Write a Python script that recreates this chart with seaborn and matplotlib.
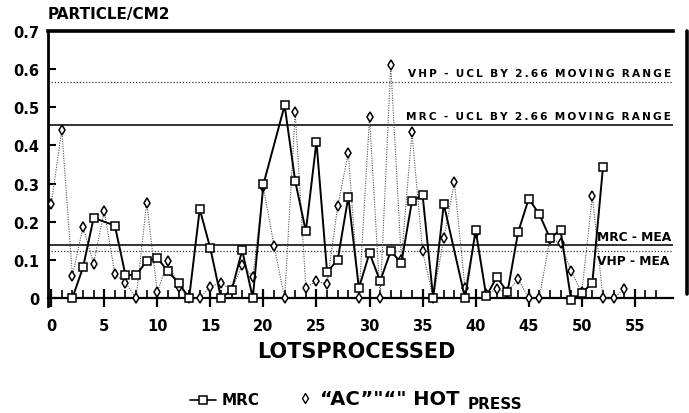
import numpy as np
import pandas as pd
import matplotlib
matplotlib.use("Agg")
import matplotlib.pyplot as plt
from matplotlib.lines import Line2D
import seaborn as sns

# ---------------- data ----------------
mrc_lots = [2, 3, 4, 6, 7, 8, 9, 10, 11, 12, 13, 14, 15, 16, 17, 18, 19, 20,
            22, 23, 24, 25, 26, 27, 28, 29, 30, 31, 32, 33, 34, 35, 36, 37,
            39, 40, 41, 42, 43, 44, 45, 46, 47, 48, 49, 50, 51, 52]
mrc_vals = [0.0, 0.08, 0.21, 0.19, 0.06, 0.06, 0.097, 0.105, 0.07, 0.04, 0.0,
            0.233, 0.13, 0.0, 0.02, 0.125, 0.0, 0.298,
            0.505, 0.306, 0.175, 0.41, 0.068, 0.10, 0.265, 0.026, 0.118, 0.044,
            0.123, 0.092, 0.254, 0.27, 0.0, 0.246,
            0.0, 0.178, 0.005, 0.055, 0.015, 0.172, 0.26, 0.22, 0.157, 0.178,
            -0.005, 0.013, 0.04, 0.343]

vhp_lots = list(range(0, 55))
vhp_vals = [0.246, 0.44, 0.058, 0.187, 0.09, 0.228, 0.063, 0.04, 0.0, 0.25,
            0.015, 0.097, 0.03, 0.0, 0.0, 0.03, 0.04, 0.02, 0.087, 0.055,
            0.29, 0.137, 0.0, 0.487, 0.027, 0.044, 0.037, 0.24, 0.38, 0.0,
            0.474, 0.0, 0.61, 0.1, 0.434, 0.123, 0.0, 0.157, 0.303, 0.025,
            0.17, 0.01, 0.023, 0.015, 0.05, 0.0, 0.0, 0.155, 0.145, 0.07,
            0.015, 0.267, 0.0, 0.0, 0.023]

vhp_ucl = 0.565
mrc_ucl = 0.453
mrc_mean = 0.140
vhp_mean = 0.124

y_ticks = [0, 0.1, 0.2, 0.3, 0.4, 0.5, 0.6, 0.7]
y_ticklabels = ["0", "0.1", "0.2", "0.3", "0.4", "0.5", "0.6", "0.7"]
x_ticks = [0, 5, 10, 15, 20, 25, 30, 35, 40, 45, 50, 55]

ann_vhp_ucl = "VHP - UCL BY 2.66 MOVING RANGE"
ann_mrc_ucl = "MRC - UCL BY 2.66 MOVING RANGE"
ann_mrc_mean = "MRC - MEA"
ann_vhp_mean = "VHP - MEA"
y_title = "PARTICLE/CM2"
x_title = "LOTSPROCESSED"
leg_mrc = "MRC"
leg_vhp = "\u201cAC\u201d\"\u201c\" HOT"
leg_vhp_sub = "PRESS"


def spaced(s):
    # widen letter spacing like the typewriter-style label in the original
    return "\u2009".join(s.split(" ")).replace("", "\u200a")[1:-1] if False else \
        "  ".join("\u2009".join(list(w)) for w in s.split(" "))


# ---------------- style ----------------
sns.set_theme(style="white")
plt.rcParams['font.family'] = ['DejaVu Sans']
plt.rcParams['font.weight'] = 'bold'
for k in ["text.color", "axes.labelcolor", "xtick.color", "ytick.color",
          "axes.edgecolor"]:
    plt.rcParams[k] = "black"

W, H = 689, 414
fig = plt.figure(figsize=(W / 100, H / 100), dpi=100)
ax_left, ax_right = 48 / W, 673 / W
ax_top = 1 - 32 / H
ymin = -0.02
y0_px = 299
px_per_unit = (299 - 32) / 0.7
bottom_px = y0_px - ymin * px_per_unit
ax = fig.add_axes([ax_left, 1 - bottom_px / H, ax_right - ax_left,
                   ax_top - (1 - bottom_px / H)])

df_mrc = pd.DataFrame({"lot": mrc_lots, "val": mrc_vals})
df_vhp = pd.DataFrame({"lot": vhp_lots, "val": vhp_vals})

# reference lines
ax.axhline(vhp_ucl, color="#333333", lw=0.9, ls=(0, (1, 1.5)), zorder=1)
ax.axhline(mrc_ucl, color="#222222", lw=1.3, zorder=1)
ax.axhline(mrc_mean, color="#111111", lw=1.2, zorder=1)
ax.axhline(vhp_mean, color="#333333", lw=0.9, ls=(0, (1, 1.5)), zorder=1)

sns.lineplot(data=df_vhp, x="lot", y="val", ax=ax, color="#555555", lw=0.8,
             linestyle=(0, (1, 1.2)), marker="d", markersize=5,
             markerfacecolor="white", markeredgecolor="black",
             markeredgewidth=1.1, estimator=None, zorder=3)
sns.lineplot(data=df_mrc, x="lot", y="val", ax=ax, color="black", lw=1.4,
             marker="s", markersize=6, markerfacecolor="white",
             markeredgecolor="black", markeredgewidth=1.1, estimator=None,
             zorder=4)

ax.set_xlim(-0.3, 58.6)
ax.set_ylim(ymin, 0.7)
ax.set_xlabel("")
ax.set_ylabel("")

# spines
ax.spines["right"].set_visible(False)
ax.spines["top"].set_linewidth(2.6)
ax.spines["left"].set_linewidth(2.0)
ax.spines["bottom"].set_position(("data", 0))
ax.spines["bottom"].set_linewidth(1.6)
for s in ["top", "left", "bottom"]:
    ax.spines[s].set_color("black")

ax.set_yticks(y_ticks)
ax.set_yticklabels(y_ticklabels, fontsize=10.5, fontweight="bold")
ax.tick_params(axis="y", direction="in", length=6, width=1.5, color="black",
               left=True, pad=6)
ax.set_xticks(x_ticks)
ax.set_xticks(np.arange(0, 58, 1), minor=True)
ax.set_xticklabels([str(t) for t in x_ticks], fontsize=10.5, fontweight="bold")
ax.tick_params(axis="x", which="major", direction="inout", length=13, width=1.6,
               color="black", bottom=True, pad=8)
ax.tick_params(axis="x", which="minor", direction="in", length=6, width=1.2,
               color="black", bottom=True)

# annotations
ax.text(58.4, vhp_ucl + 0.012, spaced(ann_vhp_ucl), ha="right", va="bottom",
        fontsize=7.6, fontweight="bold")
ax.text(58.4, mrc_ucl + 0.012, spaced(ann_mrc_ucl), ha="right", va="bottom",
        fontsize=7.6, fontweight="bold")
ax.text(51.4, mrc_mean + 0.005, ann_mrc_mean, ha="left", va="bottom",
        fontsize=8.8, fontweight="bold")
ax.text(51.4, vhp_mean - 0.008, ann_vhp_mean, ha="left", va="top",
        fontsize=8.8, fontweight="bold")

# titles
fig.text(48 / W, 1 - 15 / H, y_title, ha="left", va="center", fontsize=11,
         fontweight="bold")
fig.text(356 / W, 1 - 352 / H, x_title, ha="center", va="center",
         fontsize=15, fontweight="bold")

# legend (manual)
ly = 1 - 401 / H
fig.add_artist(Line2D([190 / W, 216 / W], [ly, ly], color="black", lw=1.2))
fig.add_artist(Line2D([203 / W], [ly], marker="s", ms=5.5, mfc="white",
                      mec="black", mew=1.1, color="black"))
fig.text(222 / W, ly, leg_mrc, ha="left", va="center", fontsize=11,
         fontweight="bold")
fig.add_artist(Line2D([305 / W], [ly + 2 / H], marker="d", ms=5, mfc="white",
                      mec="black", mew=1.0, color="black"))
fig.text(320 / W, ly + 1 / H, leg_vhp, ha="left", va="center", fontsize=14,
         fontweight="bold")
fig.text(468 / W, ly - 4 / H, leg_vhp_sub, ha="left", va="center", fontsize=11,
         fontweight="bold")

# right border line of scanned frame
fig.add_artist(Line2D([687 / W, 687 / W], [1 - 32 / H, 1 - 295 / H],
                      color="black", lw=2.6))

fig.savefig("out.png", dpi=100)
